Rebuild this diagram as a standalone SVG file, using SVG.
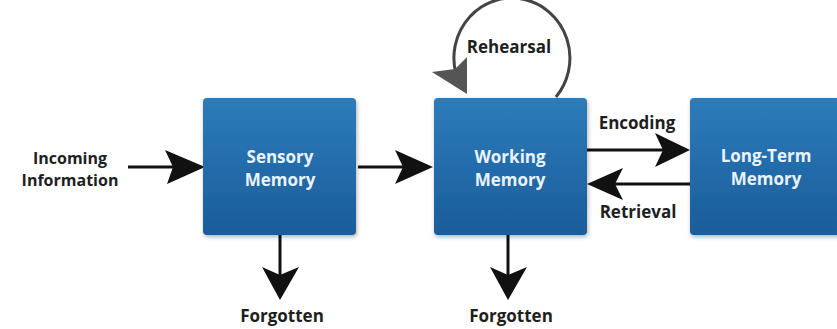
<svg xmlns="http://www.w3.org/2000/svg" width="837" height="329" viewBox="0 0 837 329">
<defs>
<linearGradient id="boxg" x1="0" y1="0" x2="0" y2="1">
<stop offset="0" stop-color="#2d7cba"/>
<stop offset="1" stop-color="#1a5c9b"/>
</linearGradient>
<filter id="sh" x="-10%" y="-10%" width="130%" height="130%">
<feDropShadow dx="1" dy="2" stdDeviation="2" flood-color="#000" flood-opacity="0.3"/>
</filter>
</defs>
<style>
.box{fill:url(#boxg);filter:url(#sh);}
.bt{font-family:"Open Sans",sans-serif;font-weight:bold;font-size:17px;fill:#eaf3fb;text-anchor:middle;}
.lb{font-family:"Open Sans",sans-serif;font-weight:bold;font-size:17px;fill:#1e1e1e;text-anchor:middle;}
.ls{font-size:16px;}
.ln{stroke:#111;stroke-width:3;fill:none;}
.hd{fill:#111;}
</style>
<rect width="837" height="329" fill="#ffffff"/>
<g id="connectors">
<line class="ln" x1="128" y1="167" x2="175" y2="167"/>
<polygon class="hd" points="205,167 165,150 173,167 167,184"/>
<line class="ln" x1="358" y1="167" x2="405" y2="167"/>
<polygon class="hd" points="433,167 395,150 403,167 395,184"/>
<line class="ln" x1="587" y1="150" x2="665" y2="150"/>
<polygon class="hd" points="690,150 655,133 663,150 655,167"/>
<line class="ln" x1="612" y1="184" x2="690" y2="184"/>
<polygon class="hd" points="587,184 623,168 615,184 623,200"/>
<line class="ln" x1="280" y1="235" x2="280" y2="278"/>
<polygon class="hd" points="280,300 262,267 280,275 299,267"/>
<line class="ln" x1="508" y1="235" x2="508" y2="278"/>
<polygon class="hd" points="508,300 490,267 508,275 527,267"/>
<path d="M 556 97 A 58 60 0 1 0 456 74" stroke="#444" stroke-width="3" fill="none"/>
<polygon points="467,94 432,72 455,69 467,57" fill="#555"/>
</g>
<g id="incoming">
<text class="lb ls" x="70" y="164">Incoming</text>
<text class="lb ls" x="70" y="186">Information</text>
</g>
<g id="sensory">
<rect class="box" x="203" y="98" width="153" height="137" rx="4"/>
<text class="bt" x="280" y="163">Sensory</text>
<text class="bt" x="280" y="186">Memory</text>
</g>
<g id="working">
<rect class="box" x="434" y="98" width="153" height="137" rx="4"/>
<text class="bt" x="510" y="163">Working</text>
<text class="bt" x="510" y="186">Memory</text>
</g>
<g id="longterm">
<rect class="box" x="690" y="98" width="160" height="137" rx="4"/>
<text class="bt" x="766" y="162">Long-Term</text>
<text class="bt" x="766" y="185">Memory</text>
</g>
<g id="labels">
<text class="lb" x="509" y="53">Rehearsal</text>
<text class="lb" x="637" y="129">Encoding</text>
<text class="lb" x="638" y="218">Retrieval</text>
<text class="lb" x="282" y="322">Forgotten</text>
<text class="lb" x="511" y="322">Forgotten</text>
</g>
</svg>
